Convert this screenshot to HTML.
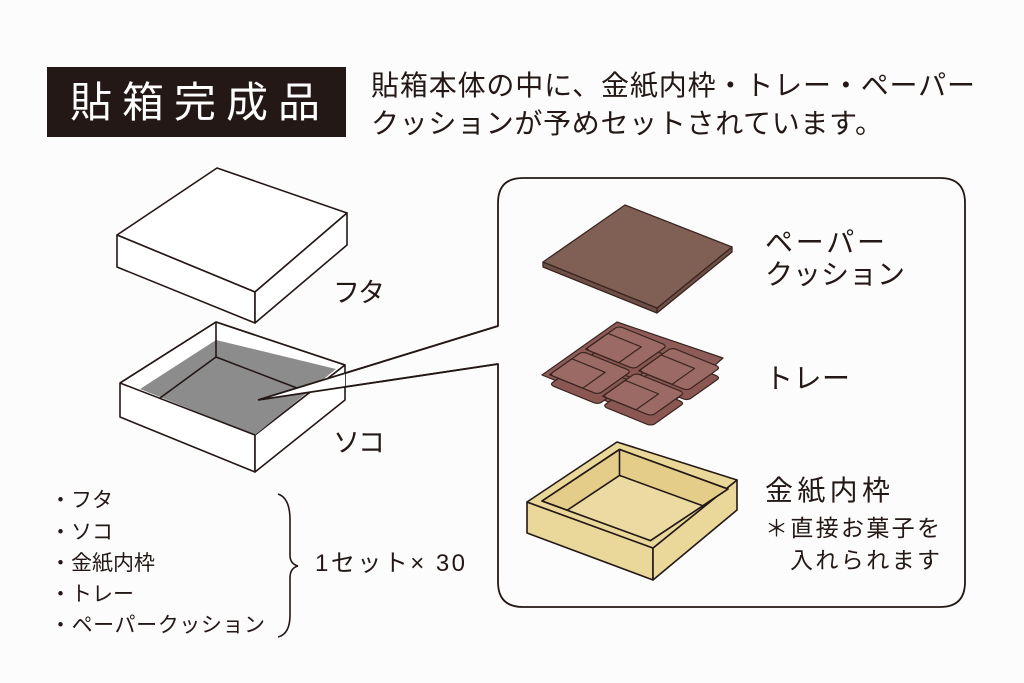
<!DOCTYPE html>
<html><head><meta charset="utf-8"><style>
html,body{margin:0;padding:0;background:#fcfcfc;}
svg{display:block}
text{font-family:"Liberation Sans","Noto Sans CJK JP",sans-serif;fill:#231815}
.n{vector-effect:non-scaling-stroke}
</style></head><body>
<svg width="1024" height="683" viewBox="0 0 1024 683" xmlns="http://www.w3.org/2000/svg">
<defs><clipPath id="op"><polygon points="542,501 619.5,449.4 728,489 650.5,540.6"/></clipPath></defs>
<rect width="1024" height="683" fill="#fcfcfc"/>
<rect x="47" y="67" width="299" height="70" fill="#231815"/>
<text x="70" y="117" font-size="42" textLength="250" lengthAdjust="spacing" style="fill:#fff">貼箱完成品</text>
<text x="371" y="95" font-size="28" textLength="604" lengthAdjust="spacing">貼箱本体の中に、金紙内枠・トレー・ペーパー</text>
<text x="371" y="133" font-size="28" textLength="512" lengthAdjust="spacing">クッションが予めセットされています。</text>

<path d="M498,326 L498,203 Q498,178 523,178 L940,178 Q965,178 965,203 L965,582 Q965,607 940,607 L523,607 Q498,607 498,582 L498,364 L258,400 Z" fill="#fcfcfc" stroke="#231815" stroke-width="1.8" stroke-linejoin="round"/>

<g stroke="#231815" stroke-width="1.6" stroke-linejoin="round" fill="#fff">
<polygon points="117,235 217,168 347,213 255,292"/>
<polygon points="117,235 255,292 255,323 117,267"/>
<polygon points="255,292 347,213 347,245 255,323"/>
<polygon points="120,383 216,322 345,365 255,435 255,472 120,417 " />
<polygon points="255,435 345,365 345,400 255,472"/>
<polygon points="140,389 216,340 336,369 255,435" fill="#8c8c8c" stroke="none"/>
<polyline points="120,383 216,322 345,365" fill="none"/>
<line x1="120" y1="383" x2="255" y2="435"/>
<line x1="216" y1="322" x2="216" y2="357"/>
<line x1="216" y1="357" x2="160" y2="398"/>
<line x1="216" y1="357" x2="310" y2="393"/>
</g>
<polygon points="260,399 345,373 345,387" fill="#fff"/>
<path d="M258,400 L498,326 M258,400 L498,364" stroke="#231815" stroke-width="1.8" fill="none"/>

<text x="333" y="302" font-size="27" textLength="52">フタ</text>
<text x="333" y="452" font-size="27" textLength="52">ソコ</text>

<g stroke="#3a2520" stroke-width="1.3" stroke-linejoin="round">
<polygon points="543,262 657,308 657,313 543,267" fill="#6e4f45"/>
<polygon points="657,308 732,247 732,252 657,313" fill="#6e4f45"/>
<polygon points="543,262 625,205 732,247 657,308" fill="#805f55"/>
</g>

<g stroke="#3a2520" stroke-width="1.2" stroke-linejoin="round">
<polygon points="542,375 617,322 723,358 653,420" fill="#8e5c58"/>
<g fill="#8a5753">
 <g transform="translate(0,10) matrix(75,-53,111,45,542,375)"><rect class="n" x="0.52" y="0.04" width="0.44" height="0.44" rx="0.04"/></g>
 <g transform="matrix(75,-53,111,45,542,375)"><rect class="n" x="0.52" y="0.04" width="0.44" height="0.44" rx="0.04" fill="#9c6a65"/><rect class="n" x="0.52" y="0.04" width="0.3" height="0.3" fill="none"/></g>
 <g transform="translate(0,10) matrix(75,-53,111,45,542,375)"><rect class="n" x="0.04" y="0.04" width="0.44" height="0.44" rx="0.04"/></g>
 <g transform="matrix(75,-53,111,45,542,375)"><rect class="n" x="0.04" y="0.04" width="0.44" height="0.44" rx="0.04" fill="#9c6a65"/><rect class="n" x="0.04" y="0.04" width="0.3" height="0.3" fill="none"/></g>
 <g transform="translate(0,10) matrix(75,-53,111,45,542,375)"><rect class="n" x="0.52" y="0.52" width="0.44" height="0.44" rx="0.04"/></g>
 <g transform="matrix(75,-53,111,45,542,375)"><rect class="n" x="0.52" y="0.52" width="0.44" height="0.44" rx="0.04" fill="#9c6a65"/><rect class="n" x="0.52" y="0.52" width="0.3" height="0.3" fill="none"/></g>
 <g transform="translate(0,10) matrix(75,-53,111,45,542,375)"><rect class="n" x="0.04" y="0.52" width="0.44" height="0.44" rx="0.04"/></g>
 <g transform="matrix(75,-53,111,45,542,375)"><rect class="n" x="0.04" y="0.52" width="0.44" height="0.44" rx="0.04" fill="#9c6a65"/><rect class="n" x="0.04" y="0.52" width="0.3" height="0.3" fill="none"/></g>
</g>
</g>

<!-- frame -->
<g stroke="#231815" stroke-width="1.6" stroke-linejoin="round" fill="#ead79a">
<polygon points="527,502 653,548 653,580 527,533"/>
<polygon points="653,548 737,480 737,510 653,580"/>
<polygon points="527,502 617,442 737,480 653,548"/>
<polygon points="542,501 619.5,449.4 728,489 650.5,540.6" fill="#e4cd88"/>
<g clip-path="url(#op)">
 <polygon points="542,527 619.5,475.4 728,515 650.5,566.6" fill="#ecdaa3"/>
 <line x1="619.5" y1="449.4" x2="619.5" y2="475.4"/>
</g>
<polygon points="542,501 619.5,449.4 728,489 650.5,540.6" fill="none"/>
</g>

<g font-size="28">
<text x="765" y="252" textLength="120">ペーパー</text>
<text x="765" y="284" textLength="140">クッション</text>
<text x="765" y="388" textLength="85">トレー</text>
<text x="765" y="500" textLength="125">金紙内枠</text>
</g>
<text x="765" y="536" font-size="23" textLength="175">＊直接お菓子を</text>
<text x="790" y="568" font-size="23" textLength="150">入れられます</text>

<g font-size="21">
<text x="50" y="507">・フタ</text>
<text x="50" y="539">・ソコ</text>
<text x="50" y="570">・金紙内枠</text>
<text x="50" y="601">・トレー</text>
<text x="50" y="632" textLength="215">・ペーパークッション</text>
</g>
<path d="M278,494 Q290,498 290,520 L290,555 Q290,564 298,566 Q290,568 290,578 L290,615 Q290,634 278,637" fill="none" stroke="#231815" stroke-width="1.6"/>
<text x="315" y="571" font-size="24" textLength="150">1セット× 30</text>
</svg>
</body></html>
